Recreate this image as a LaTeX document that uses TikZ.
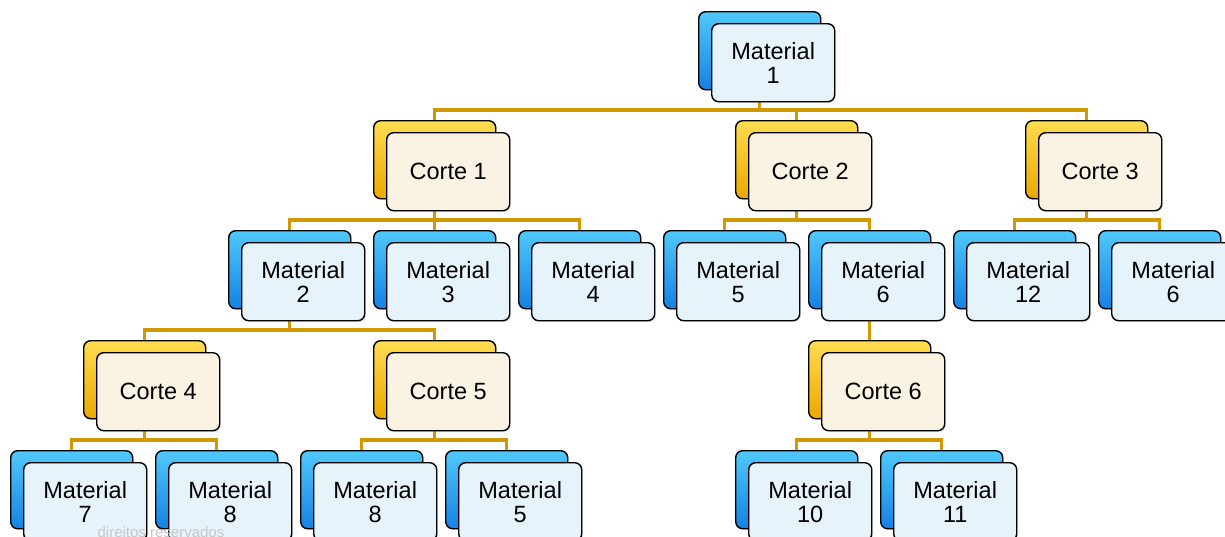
\documentclass[tikz,border=0pt]{standalone}
\usepackage{fontspec}
\setmainfont{Liberation Sans}
\usetikzlibrary{calc,shadows}
\definecolor{connc}{RGB}{210,152,0}
\definecolor{fblue}{RGB}{230,243,251}
\definecolor{fgold}{RGB}{250,243,228}
\definecolor{btopblue}{RGB}{80,200,250}
\definecolor{bbotblue}{RGB}{20,130,228}
\definecolor{btopgold}{RGB}{255,220,80}
\definecolor{bbotgold}{RGB}{235,168,0}
\pgfdeclarelayer{bg}
\pgfsetlayers{bg,main}
\tikzset{
  backbox/.style={draw=black, line width=1.4pt, rounded corners=7pt,
    minimum width=122pt, minimum height=78pt, inner sep=0pt, anchor=north west,
    drop shadow={opacity=0.25, shadow xshift=1.5pt, shadow yshift=-1.5pt}},
  backblue/.style={backbox, top color=btopblue, bottom color=bbotblue},
  backgold/.style={backbox, top color=btopgold, bottom color=bbotgold},
  frontbox/.style={draw=black, line width=1.4pt, rounded corners=7pt,
    minimum width=123pt, minimum height=78pt, inner sep=0pt, anchor=north west,
    align=center, font=\fontsize{23.5}{24}\selectfont,
    drop shadow={opacity=0.2, shadow xshift=1.5pt, shadow yshift=-1.5pt}},
  frontblue/.style={frontbox, fill=fblue},
  frontgold/.style={frontbox, fill=fgold},
  connector/.style={draw=connc, line width=3.2pt},
  watermark/.style={text=black!22, font=\fontsize{15}{17}\selectfont, inner sep=0pt, anchor=base}
}
\newcommand\matnode[4]{%
  \node[backblue] (#1-back) at (#2,#3) {};
  \node[frontblue] (#1) at ($(#1-back.north west)+(13,12)$) {#4};}
\newcommand\cutnode[4]{%
  \node[backgold] (#1-back) at (#2,#3) {};
  \node[frontgold] (#1) at ($(#1-back.north west)+(13,12)$) {#4};}
\newcommand\link[2]{%
  \draw[connector] (#1-back.south) |- ($(#2-back.north)+(0,-10)$) -- (#2-back.north);}
\begin{document}
\begin{tikzpicture}[x=1pt,y=-1pt]
\useasboundingbox (0,0) rectangle (1225,536);
\clip (0,0) rectangle (1225,536);
% row 0
\matnode{m1}{698}{11}{Material\\1}
% row 1
\cutnode{c1}{373}{120}{Corte 1}
\cutnode{c2}{735}{120}{Corte 2}
\cutnode{c3}{1025}{120}{Corte 3}
% row 2
\matnode{m2}{228}{230}{Material\\2}
\matnode{m3}{373}{230}{Material\\3}
\matnode{m4}{518}{230}{Material\\4}
\matnode{m5}{663}{230}{Material\\5}
\matnode{m6}{808}{230}{Material\\6}
\matnode{m12}{953}{230}{Material\\12}
\matnode{m6r}{1098}{230}{Material\\6}
% row 3
\cutnode{c4}{83}{340}{Corte 4}
\cutnode{c5}{373}{340}{Corte 5}
\cutnode{c6}{808}{340}{Corte 6}
% row 4
\matnode{m7}{10}{450}{Material\\7}
\matnode{m8a}{155}{450}{Material\\8}
\matnode{m8b}{300}{450}{Material\\8}
\matnode{m5x}{445}{450}{Material\\5}
\matnode{m10}{735}{450}{Material\\10}
\matnode{m11}{880}{450}{Material\\11}
\begin{pgfonlayer}{bg}
\clip (0,0) rectangle (1225,536);
\link{m1}{c1}\link{m1}{c2}\link{m1}{c3}
\link{c1}{m2}\link{c1}{m3}\link{c1}{m4}
\link{c2}{m5}\link{c2}{m6}
\link{c3}{m12}\link{c3}{m6r}
\link{m2}{c4}\link{m2}{c5}
\link{m6}{c6}
\link{c4}{m7}\link{c4}{m8a}
\link{c5}{m8b}\link{c5}{m5x}
\link{c6}{m10}\link{c6}{m11}
\end{pgfonlayer}
\node[watermark] (wm) at (161,537) {direitos reservados};
\end{tikzpicture}
\end{document}
